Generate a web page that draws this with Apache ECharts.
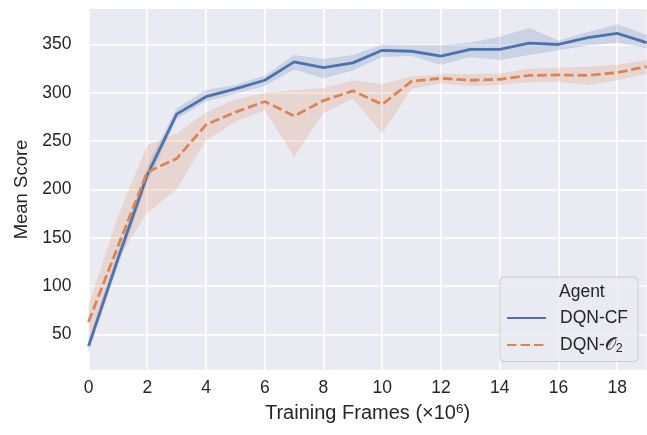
<!DOCTYPE html>
<html>
<head>
<meta charset="utf-8">
<script src="https://cdn.jsdelivr.net/npm/echarts@6/dist/echarts.min.js"></script>
<style>
html,body{margin:0;padding:0;background:#fff;}
#chart{width:647px;height:435px;}
</style>
</head>
<body>
<div id="chart"></div>
<script>
// ---- data ----
const frames = [0,1,2,3,4,5,6,7,8,9,10,11,12,13,14,15,16,17,18,19];
const cfMean = [38,128,215,278,296,304,313,332,326,331,344,343,338,345,345,351.5,350,357,361.5,352];
const cfLow  = [31,121,207,273,291,299,307,324,315,323,337,338,329,337,334,339,344,349,352,346];
const cfHigh = [45,135,224,284,303,308,318,339,335,339,350,349.5,349.5,352,358,367,354,363,371,360];
const o2Mean = [63,141,218,232,267,280,291,276,292,302,288,312,315,313,314,318,318.5,318,321,327];
const o2Low  = [45,128,176,200,251,270,282,234,279,294,258,304,310,307,308,311,311.5,308,313,319.5];
const o2High = [80,172,246,258,280,293,300,303,305,313,309,317,319.5,319.5,320,325,326,327,329,334];
const xTickStep = 2;
const yTicks = [50,100,150,200,250,300,350];
const seriesNames = ['DQN-CF','DQN-O2'];

const FONT = '"Liberation Sans", Arial, sans-serif';
const TXT = '#262626';
const BLUE = '#4C72B0', ORANGE = '#DD8452';

const diff = (hi, lo) => hi.map((v, i) => v - lo[i]);

function band(stack, lo, hi, color) {
  return [
    { type:'line', name: stack + '_lo', stack: stack, data: lo, symbol:'none',
      lineStyle:{opacity:0, width:0}, silent:true },
    { type:'line', name: stack + '_band', stack: stack, data: diff(hi, lo), symbol:'none',
      lineStyle:{opacity:0, width:0}, areaStyle:{color: color, opacity: 1}, silent:true }
  ];
}

const chart = echarts.init(document.getElementById('chart'), null, {renderer:'canvas'});
chart.setOption({
  animation:false,
  backgroundColor:'#ffffff',
  textStyle:{fontFamily:FONT},
  grid:{left:88.5, top:9, right:0.4, bottom:65, show:true, backgroundColor:'#EAEAF2', borderWidth:0},
  xAxis:{
    type:'category', data: frames, boundaryGap:false,
    name:'Training Frames (×10{sup|6})', nameLocation:'middle', nameGap:27,
    nameTextStyle:{fontFamily:FONT, fontSize:20, color:TXT,
      rich:{sup:{fontFamily:FONT, fontSize:13.5, color:TXT, padding:[0,0,9,0]}}},
    axisLine:{show:false}, axisTick:{show:false, interval: xTickStep - 1},
    axisLabel:{interval: xTickStep - 1, fontFamily:FONT, fontSize:17.5, color:TXT, margin:9},
    splitLine:{show:true, interval: xTickStep - 1, lineStyle:{color:'#ffffff', width:1.6}}
  },
  yAxis:{
    type:'value', min:13.3, max:386.7,
    name:'Mean Score', nameLocation:'middle', nameGap:54, nameRotate:90,
    nameTextStyle:{fontFamily:FONT, fontSize:18.5, color:TXT},
    axisLine:{show:false}, axisTick:{show:false, customValues:yTicks},
    axisLabel:{customValues:yTicks, fontFamily:FONT, fontSize:17.5, color:TXT, margin:17},
    splitLine:{show:true, lineStyle:{color:'#ffffff', width:1.6}}
  },
  legend:{
    data: seriesNames,
    orient:'vertical', left:500, top:277,
    padding:[31, 10, 6, 6],
    itemWidth:39, itemHeight:14, itemGap:7,
    itemStyle:{opacity:0},
    backgroundColor:'rgba(234,234,242,0.8)', borderColor:'#CCCCCC', borderWidth:1, borderRadius:4,
    formatter:(n) => n === 'DQN-O2' ? '{t|DQN-}{o|𝒪}{s|2}' : '{t|' + n + '}',
    textStyle:{fontFamily:FONT, fontSize:17.5, color:TXT, lineHeight:20, padding:[0,0,0,9],
      rich:{
        t:{fontFamily:FONT, fontSize:17.5, color:TXT},
        o:{fontFamily:'"DejaVu Sans", serif', fontSize:17.5, color:TXT},
        s:{fontFamily:FONT, fontSize:12.5, color:TXT, padding:[8,0,0,0]}
      }}
  },
  graphic:[{
    type:'text', left:559, top:283, z:100,
    style:{text:'Agent', fontFamily:FONT, fontSize:17.5, fill:TXT}
  }],
  series:[
    ...band('cf', cfLow, cfHigh, 'rgba(76,114,176,0.2)'),
    { type:'line', name:'DQN-CF', data:cfMean, symbol:'none',
      lineStyle:{color:BLUE, width:2.8}, itemStyle:{color:BLUE}, z:3 },
    ...band('o2', o2Low, o2High, 'rgba(221,132,82,0.2)'),
    { type:'line', name:'DQN-O2', data:o2Mean, symbol:'none',
      lineStyle:{color:ORANGE, width:2.8, type:[9.5,4]}, itemStyle:{color:ORANGE}, z:3 }
  ]
});
</script>
</body>
</html>
